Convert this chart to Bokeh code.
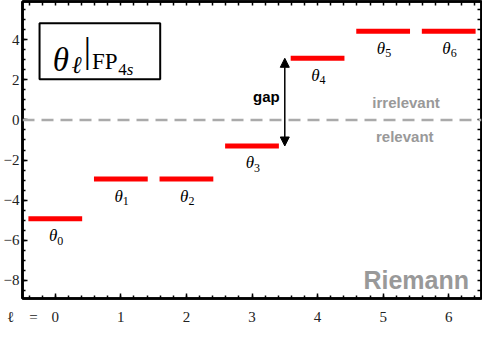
from bokeh.plotting import figure
from bokeh.models import (Label, Span, Arrow, NormalHead, LinearAxis, SingleIntervalTicker, FixedTicker,
                          CustomJSTickFormatter, Range1d, BoxAnnotation, ColumnDataSource)
from bokeh.core.properties import value
from bokeh.embed import file_html
from bokeh.resources import INLINE

# ---- data ----
ell = [0, 1, 2, 3, 4, 5, 6]
theta = [-4.93, -2.95, -2.95, -1.30, 3.07, 4.42, 4.42]
sub_labels = ["0", "1", "2", "3", "4", "5", "6"]
gap_from = 3   # relevant exponent closest to 0
gap_to = 4     # irrelevant exponent closest to 0

X0, X1 = -0.5, 6.5
Y0, Y1 = -8.9, 5.9
HALF = 0.41
SERIF = value("Liberation Serif")

src = ColumnDataSource(dict(
    x=ell,
    y=theta,
    x0=[l - HALF for l in ell],
    x1=[l + HALF for l in ell],
    th=["θ"] * len(ell),
    sub=sub_labels,
))

p = figure(width=482, height=328, x_range=Range1d(X0, X1), y_range=Range1d(Y0, Y1),
           output_backend="svg", toolbar_location=None,
           min_border_left=18, min_border_right=1, min_border_top=1, min_border_bottom=30)
p.grid.visible = False
p.outline_line_color = "black"
p.outline_line_width = 2.5
p.background_fill_color = "white"

def style_axis(ax):
    ax.axis_line_width = 2.5
    ax.axis_line_color = "black"
    ax.major_tick_in = 5
    ax.major_tick_out = 0
    ax.minor_tick_in = 3
    ax.minor_tick_out = 0
    ax.major_tick_line_width = 1.5
    ax.minor_tick_line_width = 1.5
    ax.major_tick_line_color = "black"
    ax.minor_tick_line_color = "black"
    ax.major_label_text_font = "Liberation Serif"
    ax.major_label_text_font_size = "15px"
    ax.major_label_text_color = "#222222"

x_minor = [round(X0 + 0.1 + 0.2 * i, 2) for i in range(35)]
y_minor = [Y0 + 0.4 + 0.5 * i for i in range(29)]

xa = p.xaxis[0]
xa.ticker = FixedTicker(ticks=[X0] + ell, minor_ticks=x_minor)
style_axis(xa)
xa.major_label_standoff = 10
xa.formatter = CustomJSTickFormatter(code="return tick < 0 ? '\u2113\u2003=' : '' + tick;")

ya = p.yaxis[0]
ya.ticker = SingleIntervalTicker(interval=2, num_minor_ticks=4)
style_axis(ya)
ya.major_label_standoff = 3
ya.formatter = CustomJSTickFormatter(code="return tick < 0 ? '\\u2212' + (-tick) : '' + tick;")

top = LinearAxis(ticker=FixedTicker(ticks=[], minor_ticks=x_minor))
style_axis(top)
top.minor_tick_in = 4
top.major_label_standoff = 0
p.add_layout(top, "above")
right = LinearAxis(ticker=FixedTicker(ticks=[], minor_ticks=y_minor))
style_axis(right)
right.minor_tick_in = 4
right.major_label_standoff = 0
p.add_layout(right, "right")

# zero line
p.add_layout(Span(location=0, dimension="width", line_color="#aaaaaa",
                  line_width=2.5, line_dash="12 7"))

# bars
p.segment(x0="x0", x1="x1", y0="y", y1="y", source=src, line_color="#ff0000", line_width=5)

# theta labels
p.text(x="x", y="y", text="th", source=src, text_align="right", text_baseline="middle",
       x_offset=2, y_offset=17, text_font=SERIF, text_font_style="italic",
       text_font_size="17px", text_color="black")
p.text(x="x", y="y", text="sub", source=src, text_align="left", text_baseline="middle",
       x_offset=2, y_offset=22, text_font=SERIF, text_font_size="12px", text_color="black")

# gap arrow
p.add_layout(Arrow(x_start=3.5, y_start=theta[gap_from], x_end=3.5, y_end=theta[gap_to],
                   line_width=1.5, line_color="black",
                   start=NormalHead(size=9, fill_color="black", line_color="black"),
                   end=NormalHead(size=9, fill_color="black", line_color="black")))

def sans_label(x, y, text, size, color, align="center", baseline="middle"):
    p.add_layout(Label(x=x, y=y, text=text, text_align=align, text_baseline=baseline,
                       text_font="Liberation Sans", text_font_style="bold",
                       text_font_size=size, text_color=color))

sans_label(3.22, 1.16, "gap", "15px", "black")
sans_label(5.35, 0.86, "irrelevant", "15px", "#999999")
sans_label(5.33, -0.85, "relevant", "15px", "#999999")
sans_label(6.31, -7.98, "Riemann", "25px", "#999999", align="right", baseline="alphabetic")

# title box
p.add_layout(BoxAnnotation(left=-0.24, right=1.60, bottom=2.03, top=4.81,
                           fill_color="white", fill_alpha=1.0,
                           line_color="black", line_width=2, line_alpha=1.0))

def serif_label(x, y, text, size, style="normal", align="left", baseline="alphabetic"):
    p.add_layout(Label(x=x, y=y, text=text, text_align=align, text_baseline=baseline,
                       text_font="Liberation Serif", text_font_style=style,
                       text_font_size=size, text_color="black"))

serif_label(-0.04, 2.99, "θ", "33px", style="italic")
serif_label(0.25, 2.73, "ℓ", "24px", style="italic")
serif_label(0.49, 3.47, "|", "36px", align="center", baseline="middle")
serif_label(0.56, 2.89, "FP", "23px")
serif_label(0.96, 2.53, "4", "17px")
serif_label(1.09, 2.53, "s", "17px", style="italic")

open("out.html", "w").write(file_html(p, INLINE))
